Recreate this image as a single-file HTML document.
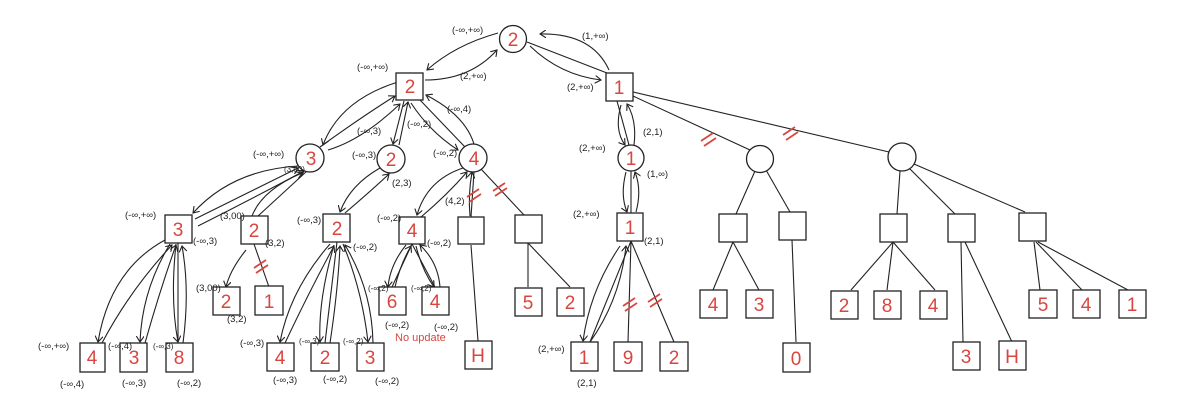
<!DOCTYPE html>
<html><head><meta charset="utf-8"><style>
html,body{margin:0;padding:0;background:#fff;}
svg{display:block}
.s{fill:#fff;stroke:#222;stroke-width:1.3}
.l{fill:none;stroke:#222;stroke-width:1.1}
.a{fill:none;stroke:#222;stroke-width:1.1;marker-end:url(#m)}
.r{fill:none;stroke:#d9453f;stroke-width:1.8}
.n{font-family:"Liberation Sans",sans-serif;font-size:19px;fill:#d9453f;text-anchor:middle}
.t{font-family:"Liberation Sans",sans-serif;font-size:9.5px;fill:#222}
</style></head><body>
<svg width="1182" height="413" viewBox="0 0 1182 413" xmlns="http://www.w3.org/2000/svg">
<defs><marker id="m" markerWidth="8" markerHeight="8" refX="6" refY="4" orient="auto" markerUnits="userSpaceOnUse"><path d="M0,0 L6,4 L0,8" fill="none" stroke="#222" stroke-width="1.1"/></marker></defs>

<!-- tree lines -->
<g class="l">
<line x1="527" y1="42" x2="607" y2="73"/>
<line x1="420" y1="100" x2="465" y2="147"/>
<line x1="307" y1="171" x2="258" y2="216"/>
<line x1="474" y1="172" x2="471" y2="217"/>
<line x1="481" y1="169" x2="524" y2="215"/>
<line x1="254" y1="244" x2="269" y2="287"/>
<line x1="471" y1="245" x2="478" y2="341"/>
<line x1="528" y1="243" x2="528" y2="287"/>
<line x1="528" y1="243" x2="570" y2="287"/>
<line x1="412" y1="244" x2="392" y2="287"/>
<line x1="412" y1="244" x2="435" y2="287"/>
<line x1="178" y1="243" x2="178" y2="343"/>
<line x1="337" y1="242" x2="325" y2="343"/>
<line x1="617" y1="101" x2="629" y2="145"/>
<line x1="633" y1="96" x2="750" y2="150"/>
<line x1="633" y1="92" x2="889" y2="152"/>
<line x1="631" y1="171" x2="631" y2="213"/>
<line x1="631" y1="241" x2="590" y2="342"/>
<line x1="631" y1="241" x2="628" y2="342"/>
<line x1="631" y1="241" x2="674" y2="342"/>
<line x1="755" y1="171" x2="736" y2="214"/>
<line x1="766" y1="170" x2="790" y2="212"/>
<line x1="733" y1="242" x2="713" y2="290"/>
<line x1="733" y1="242" x2="759" y2="290"/>
<line x1="792" y1="240" x2="796" y2="342"/>
<line x1="900" y1="171" x2="897" y2="214"/>
<line x1="909" y1="168" x2="955" y2="214"/>
<line x1="914" y1="164" x2="1025" y2="212"/>
<line x1="893" y1="242" x2="851" y2="290"/>
<line x1="893" y1="242" x2="887" y2="290"/>
<line x1="893" y1="242" x2="935" y2="290"/>
<line x1="961" y1="242" x2="963" y2="342"/>
<line x1="965" y1="242" x2="1012" y2="342"/>
<line x1="1034" y1="242" x2="1040" y2="290"/>
<line x1="1036" y1="242" x2="1082" y2="290"/>
<line x1="1038" y1="242" x2="1128" y2="290"/>
</g>

<!-- arrows -->
<g class="a">
<path d="M498 33 Q455 45 427 70"/>
<path d="M425 80 Q470 80 497 50"/>
<path d="M530 46 Q560 75 601 80"/>
<path d="M609 70 Q592 33 540 34"/>
<path d="M398 82 Q340 100 323 145"/>
<path d="M320 147 Q360 118 395 96"/>
<path d="M328 150 Q362 140 400 104"/>
<path d="M404 101 L393 144"/>
<path d="M399 145 L408 102"/>
<path d="M411 103 Q430 132 458 150"/>
<path d="M474 144 Q465 115 426 95"/>
<path d="M298 166 Q232 170 193 213"/>
<path d="M195 219 L298 168"/>
<path d="M198 226 Q250 200 304 171"/>
<path d="M252 216 Q262 190 302 173"/>
<path d="M246 250 Q230 270 226 287"/>
<path d="M380 168 Q350 185 340 212"/>
<path d="M345 213 Q372 190 389 174"/>
<path d="M463 168 Q427 180 417 215"/>
<path d="M421 217 Q447 195 467 172"/>
<path d="M470 216 Q468 195 472 172"/>
<path d="M165 240 Q110 270 98 342"/>
<path d="M102 343 Q130 290 172 245"/>
<path d="M170 244 Q142 290 140 342"/>
<path d="M145 343 Q160 290 176 245"/>
<path d="M176 244 Q170 300 178 342"/>
<path d="M183 343 Q190 290 182 246"/>
<path d="M330 244 Q290 290 280 342"/>
<path d="M285 343 Q310 290 334 246"/>
<path d="M334 245 Q318 300 320 342"/>
<path d="M330 343 Q338 290 340 246"/>
<path d="M343 244 Q362 290 368 342"/>
<path d="M373 343 Q372 290 345 245"/>
<path d="M406 245 Q390 265 388 287"/>
<path d="M395 287 Q400 265 411 246"/>
<path d="M416 246 Q422 270 434 287"/>
<path d="M440 287 Q438 262 420 245"/>
<path d="M621 105 Q614 130 625 145"/>
<path d="M634 145 Q637 120 627 104"/>
<path d="M626 172 Q620 195 627 212"/>
<path d="M636 212 Q642 190 635 172"/>
<path d="M620 246 Q590 290 583 341"/>
<path d="M590 342 Q620 300 626 246"/>
</g>

<!-- red slashes -->
<g class="r">
<path d="M254 268 L266 260 M256 273 L268 265"/>
<path d="M467 197 L479 189 M469 202 L481 194"/>
<path d="M493 191 L505 183 M495 196 L507 188"/>
<path d="M623 306 L635 298 M625 311 L637 303"/>
<path d="M648 302 L660 294 M650 307 L662 299"/>
<path d="M701 141 L713 133 M704 146 L716 138"/>
<path d="M783 135 L795 127 M786 140 L798 132"/>
</g>

<!-- circles -->
<g class="s">
<circle cx="513" cy="39" r="13.5"/>
<circle cx="310" cy="158" r="14"/>
<circle cx="391" cy="159" r="14"/>
<circle cx="473" cy="158" r="14"/>
<circle cx="631" cy="158" r="13"/>
<circle cx="760" cy="159" r="13.5"/>
<circle cx="902" cy="157" r="14"/>
</g>
<!-- squares -->
<g class="s">
<rect x="396" y="73" width="27" height="27"/>
<rect x="606" y="73" width="27" height="28"/>
<rect x="165" y="215" width="27" height="28"/>
<rect x="241" y="216" width="27" height="28"/>
<rect x="323" y="214" width="27" height="28"/>
<rect x="399" y="217" width="26" height="27"/>
<rect x="458" y="217" width="26" height="27"/>
<rect x="515" y="215" width="27" height="28"/>
<rect x="617" y="213" width="26" height="28"/>
<rect x="719" y="214" width="28" height="28"/>
<rect x="779" y="212" width="27" height="28"/>
<rect x="880" y="214" width="27" height="28"/>
<rect x="948" y="214" width="27" height="28"/>
<rect x="1019" y="213" width="27" height="28"/>
<!-- leaves -->
<rect x="80" y="343" width="25" height="29"/>
<rect x="120" y="343" width="27" height="29"/>
<rect x="166" y="343" width="27" height="29"/>
<rect x="213" y="287" width="27" height="28"/>
<rect x="255" y="286" width="28" height="29"/>
<rect x="267" y="343" width="27" height="28"/>
<rect x="311" y="343" width="28" height="28"/>
<rect x="357" y="343" width="27" height="28"/>
<rect x="379" y="287" width="27" height="28"/>
<rect x="422" y="287" width="27" height="28"/>
<rect x="465" y="341" width="27" height="28"/>
<rect x="515" y="288" width="27" height="28"/>
<rect x="557" y="288" width="27" height="28"/>
<rect x="571" y="342" width="27" height="29"/>
<rect x="614" y="342" width="28" height="29"/>
<rect x="660" y="342" width="28" height="29"/>
<rect x="700" y="290" width="27" height="28"/>
<rect x="746" y="290" width="27" height="28"/>
<rect x="783" y="343" width="27" height="29"/>
<rect x="831" y="291" width="27" height="28"/>
<rect x="874" y="291" width="27" height="28"/>
<rect x="920" y="291" width="27" height="28"/>
<rect x="953" y="342" width="27" height="28"/>
<rect x="999" y="341" width="27" height="29"/>
<rect x="1029" y="290" width="28" height="28"/>
<rect x="1073" y="290" width="27" height="28"/>
<rect x="1119" y="290" width="27" height="28"/>
</g>

<!-- red values -->
<g class="n">
<text x="513" y="46">2</text>
<text x="410" y="93">2</text>
<text x="619" y="94">1</text>
<text x="311" y="165">3</text>
<text x="391" y="166">2</text>
<text x="474" y="165">4</text>
<text x="631" y="165">1</text>
<text x="178" y="236">3</text>
<text x="254" y="237">2</text>
<text x="337" y="235">2</text>
<text x="412" y="237">4</text>
<text x="630" y="234">1</text>
<text x="92" y="364">4</text>
<text x="134" y="364">3</text>
<text x="179" y="364">8</text>
<text x="226" y="308">2</text>
<text x="269" y="308">1</text>
<text x="280" y="364">4</text>
<text x="325" y="364">2</text>
<text x="370" y="364">3</text>
<text x="392" y="308">6</text>
<text x="435" y="308">4</text>
<text x="478" y="362">H</text>
<text x="528" y="309">5</text>
<text x="570" y="309">2</text>
<text x="584" y="364">1</text>
<text x="628" y="364">9</text>
<text x="674" y="364">2</text>
<text x="713" y="311">4</text>
<text x="759" y="311">3</text>
<text x="796" y="365">0</text>
<text x="844" y="312">2</text>
<text x="887" y="312">8</text>
<text x="933" y="312">4</text>
<text x="966" y="363">3</text>
<text x="1012" y="363">H</text>
<text x="1043" y="311">5</text>
<text x="1086" y="311">4</text>
<text x="1132" y="311">1</text>
</g>

<!-- small labels -->
<g class="t">
<text x="452" y="33">(-∞,+∞)</text>
<text x="582" y="39">(1,+∞)</text>
<text x="357" y="70">(-∞,+∞)</text>
<text x="460" y="79">(2,+∞)</text>
<text x="567" y="90">(2,+∞)</text>
<text x="447" y="112">(-∞,4)</text>
<text x="357" y="134">(-∞,3)</text>
<text x="407" y="127">(-∞,2)</text>
<text x="352" y="158">(-∞,3)</text>
<text x="433" y="156">(-∞,2)</text>
<text x="643" y="135">(2,1)</text>
<text x="579" y="151">(2,+∞)</text>
<text x="647" y="177">(1,∞)</text>
<text x="392" y="186">(2,3)</text>
<text x="445" y="204">(4,2)</text>
<text x="253" y="157">(-∞,+∞)</text>
<text x="284" y="172" style="font-size:8px">(3,00)</text>
<text x="125" y="218">(-∞,+∞)</text>
<text x="220" y="219">(3,00)</text>
<text x="193" y="244">(-∞,3)</text>
<text x="265" y="246">(3,2)</text>
<text x="297" y="223">(-∞,3)</text>
<text x="353" y="250">(-∞,2)</text>
<text x="377" y="221">(-∞,2)</text>
<text x="427" y="246">(-∞,2)</text>
<text x="196" y="291">(3,00)</text>
<text x="227" y="322">(3,2)</text>
<text x="368" y="291" style="font-size:8px">(-∞,2)</text>
<text x="411" y="291" style="font-size:8px">(-∞,2)</text>
<text x="385" y="328">(-∞,2)</text>
<text x="434" y="330">(-∞,2)</text>
<text x="240" y="346">(-∞,3)</text>
<text x="299" y="344" style="font-size:8px">(-∞,3)</text>
<text x="343" y="344" style="font-size:8px">(-∞,2)</text>
<text x="273" y="383">(-∞,3)</text>
<text x="323" y="382">(-∞,2)</text>
<text x="375" y="384">(-∞,2)</text>
<text x="38" y="349">(-∞,+∞)</text>
<text x="108" y="349">(-∞,4)</text>
<text x="153" y="349" style="font-size:8px">(-∞,3)</text>
<text x="60" y="387">(-∞,4)</text>
<text x="122" y="386">(-∞,3)</text>
<text x="177" y="386">(-∞,2)</text>
<text x="573" y="217">(2,+∞)</text>
<text x="644" y="244">(2,1)</text>
<text x="538" y="352">(2,+∞)</text>
<text x="577" y="386">(2,1)</text>
</g>
<text x="395" y="341" style="font-family:'Liberation Sans',sans-serif;font-size:11px;fill:#d9453f">No update</text>
</svg>
</body></html>
